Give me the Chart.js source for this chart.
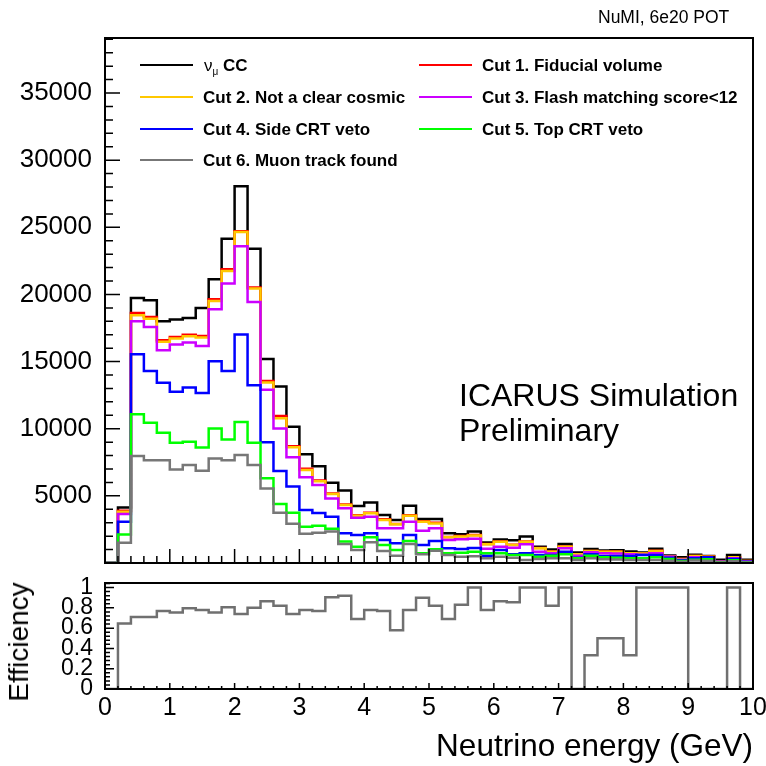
<!DOCTYPE html>
<html><head><meta charset="utf-8">
<script src="https://cdn.jsdelivr.net/npm/chart.js@4.4.0/dist/chart.umd.min.js"></script>
<style>
body{margin:0;background:#fff;}
#wrap{position:relative;width:766px;height:766px;overflow:hidden;background:#fff;font-family:"Liberation Sans",Arial,Helvetica,sans-serif;color:#000;}
canvas{position:absolute;left:0;}
.t{position:absolute;white-space:nowrap;line-height:1;}
.ln{position:absolute;height:2px;width:53px;}
.lt{position:absolute;white-space:nowrap;font-weight:bold;font-size:17px;line-height:1;}
</style></head><body>
<div id="wrap">
<canvas id="cTop" width="766" height="575" style="top:0"></canvas>
<canvas id="cBot" width="766" height="191" style="top:575px"></canvas>
<div class="t" style="left:598px;top:9px;font-size:17.5px">NuMI, 6e20 POT</div>

<div class="ln" style="left:140px;top:64px;background:#000"></div>
<div class="lt" style="left:204px;top:57px"><span style="font-weight:normal">ν</span><sub style="font-size:10px;font-weight:normal;line-height:0;vertical-align:-4px">μ</sub> CC</div>
<div class="ln" style="left:419px;top:64px;background:#ff0000"></div>
<div class="lt" style="left:482px;top:57px">Cut 1. Fiducial volume</div>

<div class="ln" style="left:140px;top:96px;background:#ffc800"></div>
<div class="lt" style="left:203px;top:89px">Cut 2. Not a clear cosmic</div>
<div class="ln" style="left:419px;top:96px;background:#cc00ff"></div>
<div class="lt" style="left:482px;top:89px">Cut 3. Flash matching score&lt;12</div>

<div class="ln" style="left:140px;top:128px;background:#0000ff"></div>
<div class="lt" style="left:203px;top:121px">Cut 4. Side CRT veto</div>
<div class="ln" style="left:419px;top:128px;background:#00ff00"></div>
<div class="lt" style="left:482px;top:121px">Cut 5. Top CRT veto</div>

<div class="ln" style="left:140px;top:159px;background:#777777"></div>
<div class="lt" style="left:203px;top:152px">Cut 6. Muon track found</div>

<div class="t" style="left:459px;top:379px;font-size:32px">ICARUS Simulation</div>
<div class="t" style="left:459px;top:414px;font-size:32px">Preliminary</div>

<div class="t" style="left:19px;top:642px;font-size:28px;transform:translate(-50%,-50%) rotate(-90deg)">Efficiency</div>
</div>
<script>
const binEdges = [0,0.2,0.4,0.6,0.8,1,1.2,1.4,1.6,1.8,2,2.2,2.4,2.6,2.8,3,3.2,3.4,3.6,3.8,4,4.2,4.4,4.6,4.8,5,5.2,5.4,5.6,5.8,6,6.2,6.4,6.6,6.8,7,7.2,7.4,7.6,7.8,8,8.2,8.4,8.6,8.8,9,9.2,9.4,9.6,9.8,10];

const numuCC = [0,4140,19740,19570,18000,18130,18250,19000,21130,24150,
 28050,23400,15200,13150,10140,8100,7200,5980,5400,4250,
 4510,3570,3200,4265,3270,3270,2210,2150,2350,1530,
 1750,1700,1980,1215,1000,1420,780,1040,930,950,
 860,780,1070,550,420,620,520,250,600,250];
const cut1 = [0,3900,18620,18330,16590,16840,17000,16900,19640,21870,
 24700,20520,13560,10950,8700,7020,6150,5180,4360,3550,
 3740,3260,2910,3560,3110,2990,1940,2010,2080,1420,
 1610,1360,1610,1110,850,1230,655,900,855,855,
 730,710,905,480,305,530,478,122,430,152];
const cut2 = [0,3820,18450,18200,16470,16720,16890,16790,19520,21750,
 24650,20440,13450,10780,8620,6920,6080,5130,4315,3510,
 3700,3200,2880,3520,3075,2950,1910,1980,2050,1400,
 1590,1340,1590,1090,840,1215,645,890,843,843,
 720,700,893,470,300,521,470,120,422,150];
const cut3 = [0,3650,18000,17580,15850,16270,16420,16170,18900,20810,
 23585,19440,12900,10020,7880,6390,5800,4810,4070,3370,
 3445,2580,2580,3075,2400,2580,1710,1760,1800,1060,
 1215,1141,1389,843,720,1091,546,794,720,700,
 650,620,720,471,250,422,400,100,347,120];
const cut4 = [0,3075,15550,14300,13420,12750,13070,12670,15030,14300,
 17010,13240,9000,6850,5700,3950,3720,3445,2210,2080,
 2210,1710,1465,2080,1340,1640,1090,1050,1120,546,
 967,645,720,595,595,843,397,645,521,521,
 521,595,595,400,200,350,422,80,300,100];
const cut5 = [0,2130,11085,10440,9700,8950,9025,8600,10020,9200,
 10510,8950,6320,4400,3740,2700,2775,2550,1610,1215,
 1910,1340,970,1640,720,1020,720,770,843,720,
 720,595,595,471,546,645,347,546,422,400,
 360,350,422,300,150,250,280,50,200,60];
const cut6 = [0,1510,7960,7660,7660,6970,7290,6870,7790,7660,
 8035,7290,5555,3750,2920,2180,2250,2350,1410,970,
 1540,890,545,1410,645,915,595,471,500,347,
 471,397,223,298,347,347,223,347,273,260,
 230,220,223,170,100,180,160,30,130,30];
const efficiency = [0,0.645,0.71,0.71,0.77,0.755,0.795,0.78,0.755,0.805,
 0.74,0.80,0.865,0.82,0.74,0.78,0.77,0.905,0.92,0.69,
 0.78,0.77,0.58,0.78,0.90,0.82,0.69,0.83,1.0,0.78,
 0.865,0.855,1.0,1.0,0.82,1.0,0,0.333,0.5,0.5,
 0.333,1,1,1,1,0,0,0,1,0];

const topYTicks = [5000,10000,15000,20000,25000,30000,35000];
const effYTicks = [0,0.2,0.4,0.6,0.8,1];
const energyTicks = [0,1,2,3,4,5,6,7,8,9,10];

const FONT = '"Liberation Sans", Arial, Helvetica, sans-serif';

function steps(values){
  return binEdges.map((e,i)=>({x:e, y: values[Math.min(i, values.length-1)]}));
}
function ds(label, values, color, order){
  return {label, data: steps(values), borderColor: color, backgroundColor: color,
    borderWidth: 2.5, pointRadius: 0, stepped: 'before', fill: false, tension: 0, order,
    borderJoinStyle: 'miter'};
}
function range(a,b,s){ const r=[]; for(let v=a; v<=b+1e-9; v+=s) r.push(Math.round(v*1000)/1000); return r; }

const rootFrame = {
  id: 'rootFrame',
  afterDatasetsDraw(chart, args, o) {
    const {ctx, chartArea: a, scales} = chart;
    const xs = scales.x, ys = scales.y;
    ctx.save();
    ctx.strokeStyle = '#000';
    ctx.lineWidth = 1.5;
    ctx.beginPath();
    o.xMinor.forEach(v => { const p = xs.getPixelForValue(v); ctx.moveTo(p, a.bottom); ctx.lineTo(p, a.bottom - o.xMinorLen); });
    o.xMajor.forEach(v => { const p = xs.getPixelForValue(v); ctx.moveTo(p, a.bottom); ctx.lineTo(p, a.bottom - o.xMajorLen); });
    o.yMinor.forEach(v => { const p = ys.getPixelForValue(v); ctx.moveTo(a.left, p); ctx.lineTo(a.left + o.yMinorLen, p); });
    o.yMajor.forEach(v => { const p = ys.getPixelForValue(v); ctx.moveTo(a.left, p); ctx.lineTo(a.left + o.yMajorLen, p); });
    ctx.stroke();
    ctx.lineWidth = 2;
    ctx.strokeRect(a.left, a.top, a.right - a.left, a.bottom - a.top);
    ctx.restore();
  }
};

function zeroPad(s){ s.paddingTop = 0; s.paddingBottom = 0; s.paddingLeft = 0; s.paddingRight = 0; }

new Chart(document.getElementById('cTop'), {
  type: 'line',
  data: { datasets: [
    ds('νμ CC', numuCC, '#000000', 7),
    ds('Cut 1. Fiducial volume', cut1, '#ff0000', 6),
    ds('Cut 2. Not a clear cosmic', cut2, '#ffc800', 5),
    ds('Cut 3. Flash matching score<12', cut3, '#cc00ff', 4),
    ds('Cut 4. Side CRT veto', cut4, '#0000ff', 3),
    ds('Cut 5. Top CRT veto', cut5, '#00ff00', 2),
    ds('Cut 6. Muon track found', cut6, '#777777', 1)
  ]},
  options: {
    responsive: false, animation: false, devicePixelRatio: 1,
    layout: { padding: { top: 38, right: 13, bottom: 12, left: 0 } },
    plugins: {
      legend: { display: false }, tooltip: { enabled: false },
      rootFrame: { xMajor: energyTicks, xMinor: range(0,10,0.2), xMajorLen: 14, xMinorLen: 7,
                   yMajor: range(0,35000,5000), yMinor: range(0,39000,1000), yMajorLen: 15, yMinorLen: 8 }
    },
    scales: {
      x: { type: 'linear', min: 0, max: 10, display: false },
      y: { type: 'linear', min: 0, max: 39100,
        afterFit: s => { s.width = 105; zeroPad(s); },
        afterBuildTicks: s => { s.ticks = topYTicks.map(v => ({value: v})); },
        grid: { display: false, drawTicks: false }, border: { display: false },
        ticks: { padding: 13, color: '#000', autoSkip: false, font: { family: FONT, size: 26 }, callback: v => String(v) } }
    }
  },
  plugins: [rootFrame]
});

new Chart(document.getElementById('cBot'), {
  type: 'line',
  data: { datasets: [ ds('Efficiency', efficiency, '#707070', 1) ] },
  options: {
    responsive: false, animation: false, devicePixelRatio: 1,
    layout: { padding: { top: 8, right: 13, bottom: 0, left: 0 } },
    plugins: {
      legend: { display: false }, tooltip: { enabled: false },
      rootFrame: { xMajor: energyTicks, xMinor: range(0,10,0.2), xMajorLen: 6, xMinorLen: 3,
                   yMajor: effYTicks, yMinor: range(0,1.04,0.04), yMajorLen: 9, yMinorLen: 5 }
    },
    scales: {
      x: { type: 'linear', min: 0, max: 10,
        afterFit: s => { s.height = 77; zeroPad(s); },
        afterBuildTicks: s => { s.ticks = energyTicks.map(v => ({value: v})); },
        grid: { display: false, drawTicks: false }, border: { display: false },
        ticks: { padding: 4, color: '#000', autoSkip: false, maxRotation: 0, font: { family: FONT, size: 25 }, callback: v => String(v) },
        title: { display: true, text: 'Neutrino energy (GeV)', align: 'end', color: '#000',
                 font: { family: FONT, size: 31.5 }, padding: { top: 0, bottom: 0 } } },
      y: { type: 'linear', min: 0, max: 1.045,
        afterFit: s => { s.width = 105; zeroPad(s); },
        afterBuildTicks: s => { s.ticks = effYTicks.map(v => ({value: v})); },
        grid: { display: false, drawTicks: false }, border: { display: false },
        ticks: { padding: 12, color: '#000', autoSkip: false, font: { family: FONT, size: 23 }, callback: v => String(v) } }
    }
  },
  plugins: [rootFrame]
});
</script>
</body></html>
